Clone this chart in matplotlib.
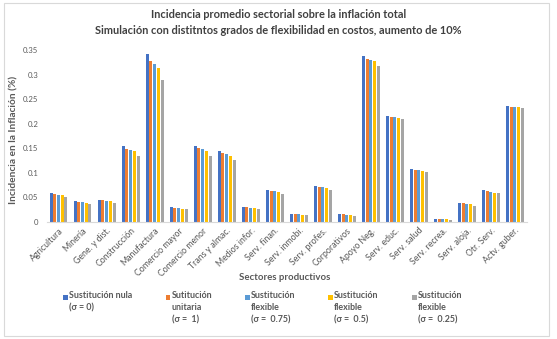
import numpy as np
import matplotlib
matplotlib.use('Agg')
import matplotlib.pyplot as plt
from matplotlib.patches import Rectangle

plt.rcParams['font.family'] = ['Lato', 'DejaVu Sans']

# Data
sectores = ['Agricultura', 'Minería', 'Gene. y dist.', 'Construcción', 'Manufactura',
            'Comercio mayor', 'Comercio menor', 'Trans y almac.', 'Medios infor.',
            'Serv. finan.', 'Serv. inmobi.', 'Serv. profes.', 'Corporativos',
            'Apoyo Neg.', 'Serv. educ.', 'Serv. salud', 'Serv. recrea.',
            'Serv. aloja.', 'Otr. Serv.', 'Actv. guber.']

sust_nula = [0.059, 0.0435, 0.0455, 0.154, 0.341, 0.030, 0.155, 0.144, 0.031, 0.065,
             0.017, 0.074, 0.0156, 0.338, 0.2155, 0.108, 0.0068, 0.039, 0.0646, 0.237]
sust_unit = [0.056, 0.041, 0.044, 0.148, 0.328, 0.0285, 0.150, 0.141, 0.030, 0.064,
             0.017, 0.0714, 0.0156, 0.332, 0.2135, 0.1067, 0.0068, 0.038, 0.063, 0.235]
flex_075 = [0.055, 0.041, 0.0435, 0.147, 0.322, 0.0285, 0.149, 0.138, 0.0285, 0.064,
            0.0163, 0.0714, 0.0143, 0.330, 0.2135, 0.1067, 0.0068, 0.0374, 0.062, 0.235]
flex_05 = [0.054, 0.039, 0.0435, 0.144, 0.314, 0.027, 0.144, 0.135, 0.0285, 0.062,
           0.015, 0.070, 0.0143, 0.327, 0.212, 0.1047, 0.0068, 0.036, 0.060, 0.234]
flex_025 = [0.050, 0.036, 0.039, 0.134, 0.288, 0.026, 0.135, 0.126, 0.026, 0.056,
            0.0136, 0.0646, 0.012, 0.317, 0.210, 0.102, 0.0048, 0.033, 0.058, 0.231]

series = [sust_nula, sust_unit, flex_075, flex_05, flex_025]
etiquetas = ['Sustitución nula\n(σ = 0)', 'Sutitución\nunitaria\n(σ =  1)',
             'Sustitución\nflexible\n(σ =  0.75)', 'Sustitución\nflexible\n(σ =  0.5)',
             'Sustitución\nflexible\n(σ =  0.25)']
colores = ['#4472C4', '#ED7D31', '#5B9BD5', '#FFC000', '#A5A5A5']
yticks = [0, 0.05, 0.1, 0.15, 0.2, 0.25, 0.3, 0.35]
ytick_labels = ['0', '0.05', '0.1', '0.15', '0.2', '0.25', '0.3', '0.35']

W, H = 557, 339
fig = plt.figure(figsize=(W / 100, H / 100), dpi=100)

# Outer chart border
fig.patches.append(Rectangle((4 / W, 1 - 336 / H), 545 / W, 333 / H, transform=fig.transFigure,
                             fill=False, edgecolor='#D9D9D9', linewidth=0.8))

ax = fig.add_axes([46.5 / W, 1 - 222 / H, 480.5 / W, 172 / H])
x = np.arange(len(sectores))
step, width = 0.155, 0.125
for i, (vals, col) in enumerate(zip(series, colores)):
    ax.bar(x + (i - 2) * step, vals, width=width, color=col, linewidth=0)

ax.set_xlim(-0.5, len(sectores) - 0.5)
ax.set_ylim(0, 0.35)
ax.set_yticks(yticks)
ax.set_yticklabels(ytick_labels, fontsize=5.6, color='#595959')
ax.set_xticks(x)
ax.set_xticklabels(sectores, rotation=45, ha='right', rotation_mode='anchor',
                   fontsize=6.3, color='#595959')
ax.tick_params(axis='both', length=0, pad=6)
ax.tick_params(axis='x', pad=3)
for s in ['top', 'right', 'left']:
    ax.spines[s].set_visible(False)
ax.spines['bottom'].set_color('#D9D9D9')
ax.spines['bottom'].set_linewidth(0.8)

# Titles
fig.text(0.5, 1 - 15 / H, 'Incidencia promedio sectorial sobre la inflación total',
         ha='center', va='center', fontsize=7.9, fontweight='bold', color='#404040')
fig.text(0.5, 1 - 30 / H, 'Simulación con distitntos grados de flexibilidad en costos, aumento de 10%',
         ha='center', va='center', fontsize=7.9, fontweight='bold', color='#404040')
fig.text(14 / W, 1 - 140 / H, 'Incidencia en la Inflación (%)', rotation=90,
         ha='center', va='center', fontsize=7.3, fontweight='bold', color='#595959')
fig.text(285 / W, 1 - 278 / H, 'Sectores productivos', ha='center', va='center',
         fontsize=6.9, fontweight='bold', color='#595959')

# Legend (top-aligned multi-line entries like Excel)
leg_x = [63, 166, 245, 328, 412]
for lx, lab, col in zip(leg_x, etiquetas, colores):
    fig.patches.append(Rectangle((lx / W, 1 - 299.5 / H), 4.5 / W, 4.5 / H,
                                 transform=fig.transFigure, color=col, linewidth=0))
    fig.text((lx + 6) / W, 1 - 291.5 / H, lab, ha='left', va='top', fontsize=6.4,
             fontweight='bold', color='#595959', linespacing=1.4)

fig.savefig('out.png', dpi=100)
